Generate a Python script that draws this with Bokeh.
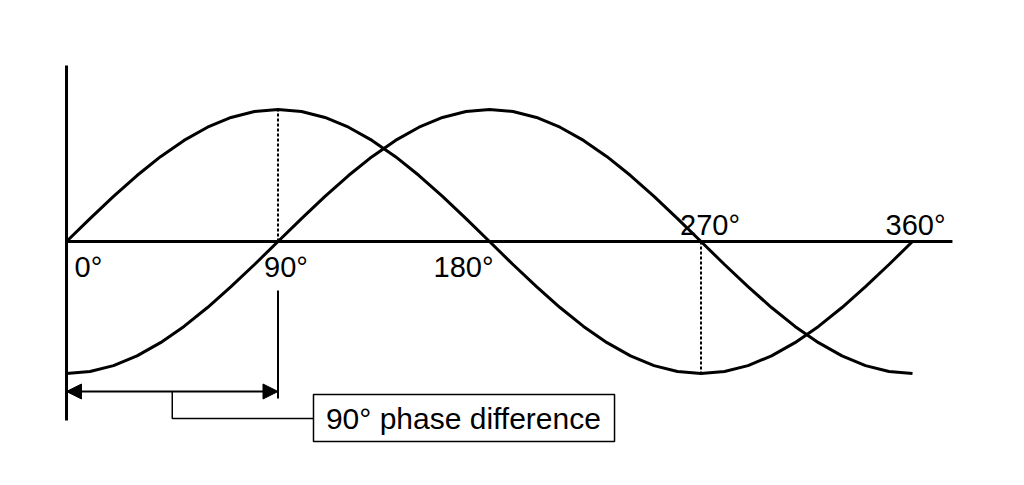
from bokeh.plotting import figure
from bokeh.models import Range1d, Arrow, NormalHead, ColumnDataSource
from bokeh.core.properties import value
from bokeh.embed import file_html
from bokeh.resources import INLINE

# ---- data ----
degrees = [0, 10, 20, 30, 40, 50, 60, 70, 80, 90, 100, 110, 120, 130, 140, 150, 160, 170, 180,
           190, 200, 210, 220, 230, 240, 250, 260, 270, 280, 290, 300, 310, 320, 330, 340, 350, 360]
wave_a = [0.0, 0.174, 0.342, 0.5, 0.643, 0.766, 0.866, 0.94, 0.985, 1.0, 0.985, 0.94, 0.866, 0.766,
          0.643, 0.5, 0.342, 0.174, 0.0, -0.174, -0.342, -0.5, -0.643, -0.766, -0.866, -0.94, -0.985,
          -1.0, -0.985, -0.94, -0.866, -0.766, -0.643, -0.5, -0.342, -0.174, 0.0]
wave_b = [-1.0, -0.985, -0.94, -0.866, -0.766, -0.643, -0.5, -0.342, -0.174, 0.0, 0.174, 0.342, 0.5,
          0.643, 0.766, 0.866, 0.94, 0.985, 1.0, 0.985, 0.94, 0.866, 0.766, 0.643, 0.5, 0.342, 0.174,
          0.0, -0.174, -0.342, -0.5, -0.643, -0.766, -0.866, -0.94, -0.985, -1.0]
tick_degrees = [0, 90, 180, 270, 360]
tick_labels = ["0°", "90°", "180°", "270°", "360°"]
phase_shift = 90
phase_label = "90° phase difference"

# ---- layout (screen offsets for labels) ----
label_dx = [8, -14, -56, -21, -27]
label_dy = [25, 25, 25, -17, -17]

FONT = value("Liberation Sans")

p = figure(width=1008, height=469, output_backend="svg", toolbar_location=None,
           x_range=Range1d(-28.09, 400.85), y_range=Range1d(-1.727, 1.826),
           min_border=0)
p.xaxis.visible = False
p.yaxis.visible = False
p.grid.visible = False
p.outline_line_color = None
p.background_fill_color = "white"
p.border_fill_color = "white"

# axes of the diagram
p.segment(x0=[0], y0=[-1.356], x1=[0], y1=[1.333], line_color="black", line_width=3)
p.segment(x0=[0], y0=[0], x1=[377], y1=[0], line_color="black", line_width=3)

# waves
p.line(degrees, wave_a, line_color="black", line_width=3)
p.line(degrees, wave_b, line_color="black", line_width=3)

# dotted guides
p.segment(x0=[phase_shift], y0=[0], x1=[phase_shift], y1=[max(wave_a)],
          line_color="black", line_width=2, line_dash="3 2")
p.segment(x0=[270], y0=[0], x1=[270], y1=[min(wave_a)],
          line_color="black", line_width=2, line_dash="3 2")

# tick labels
src = ColumnDataSource(dict(x=tick_degrees, y=[0] * len(tick_degrees), t=tick_labels,
                            dx=label_dx, dy=label_dy))
p.text(x="x", y="y", text="t", x_offset="dx", y_offset="dy", source=src,
       text_font=FONT, text_font_size="29px", text_color="black",
       text_align="left", text_baseline="alphabetic")

# phase-difference marker
arrow_y = -1.136
p.segment(x0=[phase_shift], y0=[-0.371], x1=[phase_shift], y1=[-1.189],
          line_color="black", line_width=2)
p.add_layout(Arrow(start=NormalHead(size=15, fill_color="black", line_color="black"),
                   end=NormalHead(size=15, fill_color="black", line_color="black"),
                   x_start=0, y_start=arrow_y, x_end=phase_shift, y_end=arrow_y,
                   line_color="black", line_width=2))
# bracket to label box
p.line([phase_shift / 2, phase_shift / 2, 105.1], [arrow_y, -1.341, -1.341],
       line_color="black", line_width=1.5)
# box
p.quad(left=[105.1], right=[233.2], top=[-1.159], bottom=[-1.515],
       fill_color="white", line_color="black", line_width=1.5)
p.text(x=[168.9], y=[-1.337], text=[phase_label], text_font=FONT, text_font_size="30px",
       text_color="black", text_align="center", text_baseline="middle")

open("out.html", "w").write(file_html(p, INLINE))
